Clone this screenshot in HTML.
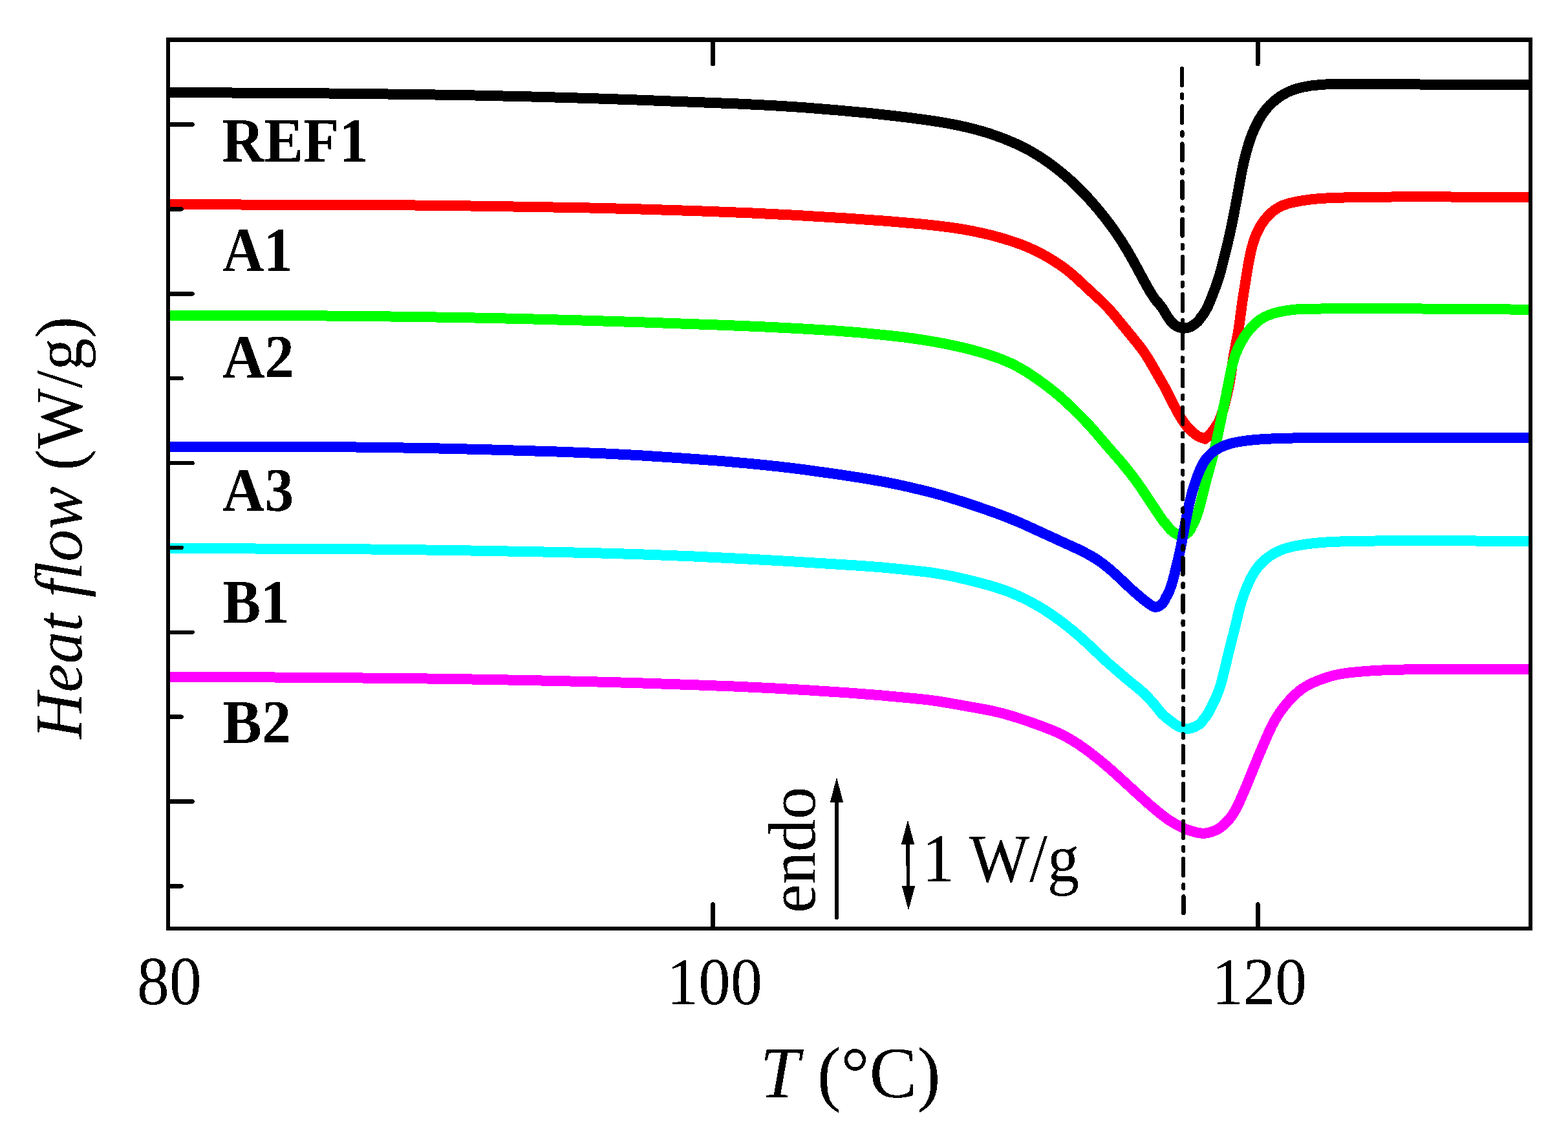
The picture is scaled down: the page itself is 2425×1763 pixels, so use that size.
<!DOCTYPE html>
<html lang="en"><head><meta charset="utf-8"><title>DSC heat flow curves</title>
<style>html,body{margin:0;padding:0;background:#fff}body{width:2425px;height:1763px;overflow:hidden}svg{display:block}text{font-family:"Liberation Serif","DejaVu Serif",serif;fill:#000}</style></head><body>
<svg width="2425" height="1763" viewBox="0 0 2425 1763" shape-rendering="crispEdges">
<rect x="0" y="0" width="2425" height="1763" fill="#fff"/>
<defs><filter id="hard" x="-0.05" y="-0.05" width="1.1" height="1.1" color-interpolation-filters="sRGB"><feComponentTransfer><feFuncA type="discrete" tableValues="0 1"/></feComponentTransfer></filter><clipPath id="plot"><rect x="260" y="61.5" width="2107" height="1374.5"/></clipPath></defs>
<g clip-path="url(#plot)" fill="none" stroke-width="16" stroke-linejoin="round" stroke-linecap="butt">
<path d="M255.0,143.0 L420.0,143.8 L499.0,144.4 L636.0,145.9 L734.0,147.5 L826.0,149.6 L917.0,152.2 L982.0,154.4 L1139.1,160.4 L1192.1,163.0 L1239.0,165.9 L1296.0,170.5 L1346.1,175.1 L1389.0,179.9 L1415.0,183.1 L1433.0,185.6 L1450.0,188.1 L1467.1,191.0 L1480.1,193.5 L1493.0,196.3 L1505.7,199.4 L1517.3,202.6 L1528.8,206.0 L1540.3,209.9 L1551.6,214.1 L1562.9,218.7 L1574.1,223.6 L1584.2,228.5 L1593.1,233.3 L1602.6,238.9 L1611.1,244.2 L1620.2,250.5 L1629.9,257.6 L1639.4,265.0 L1648.6,272.7 L1656.9,280.1 L1665.0,287.7 L1673.6,296.4 L1682.6,305.9 L1691.4,315.7 L1699.9,325.8 L1707.6,335.2 L1715.6,345.6 L1722.8,355.5 L1734.1,372.3 L1744.8,389.7 L1754.4,406.7 L1774.4,443.7 L1780.2,453.5 L1786.1,462.4 L1793.9,471.5 L1797.1,475.7 L1799.9,480.1 L1805.8,489.9 L1809.3,495.0 L1812.0,498.2 L1814.1,500.4 L1816.4,502.3 L1819.0,504.1 L1821.8,505.5 L1824.8,506.6 L1827.9,507.3 L1831.0,507.6 L1833.1,507.5 L1836.1,507.1 L1838.1,506.6 L1840.9,505.5 L1843.6,504.0 L1847.0,501.7 L1850.3,499.2 L1852.7,497.1 L1854.8,494.7 L1856.4,491.8 L1860.3,487.1 L1863.7,481.9 L1867.6,474.7 L1871.7,465.4 L1879.8,444.5 L1884.8,429.9 L1888.8,416.1 L1895.8,388.0 L1901.3,365.0 L1905.8,344.0 L1912.5,309.0 L1919.6,269.9 L1922.2,257.0 L1924.7,246.1 L1927.5,235.4 L1930.2,225.8 L1932.9,217.2 L1937.1,205.8 L1941.6,195.5 L1946.3,186.3 L1951.7,177.5 L1954.7,173.3 L1957.8,169.2 L1964.1,162.2 L1970.9,155.9 L1978.3,150.2 L1985.2,145.8 L1992.5,142.0 L2000.1,138.9 L2008.8,136.2 L2017.8,134.2 L2027.9,132.5 L2040.0,131.2 L2053.0,130.3 L2064.0,129.9 L2077.0,129.8 L2212.0,130.6 L2372.0,131.0" stroke="#000000"/>
<path d="M255.0,315.9 L391.0,316.6 L616.0,317.3 L681.0,317.8 L827.0,320.0 L917.0,321.6 L995.0,323.6 L1086.0,326.5 L1161.0,329.4 L1228.0,332.7 L1310.0,337.6 L1370.0,341.8 L1425.0,346.5 L1442.0,348.3 L1459.0,350.3 L1475.1,352.4 L1490.0,354.8 L1504.9,357.5 L1519.6,360.7 L1531.4,363.4 L1543.1,366.5 L1554.8,369.9 L1566.4,373.6 L1576.1,377.0 L1584.6,380.2 L1593.0,383.8 L1602.2,388.1 L1611.3,392.7 L1621.0,398.2 L1629.7,403.4 L1638.2,409.0 L1645.6,414.2 L1652.8,419.8 L1659.8,425.6 L1668.1,433.1 L1686.6,450.5 L1704.0,466.4 L1713.4,475.8 L1722.1,485.8 L1755.7,526.9 L1763.4,536.6 L1768.4,543.3 L1772.5,549.4 L1776.9,556.4 L1800.2,596.8 L1816.7,629.0 L1822.5,639.9 L1827.3,647.8 L1832.5,655.4 L1835.6,659.5 L1839.0,663.3 L1843.5,667.5 L1849.6,672.6 L1852.1,674.3 L1854.9,675.6 L1863.8,678.8 L1869.9,673.2 L1873.3,669.4 L1879.5,661.0 L1883.8,654.0 L1886.5,648.5 L1890.1,639.0 L1892.2,632.2 L1894.6,623.2 L1899.1,604.0 L1901.6,592.0 L1903.4,581.0 L1907.9,550.0 L1914.6,515.0 L1916.5,503.0 L1921.7,464.0 L1930.5,409.0 L1934.1,390.9 L1936.1,382.9 L1938.0,376.0 L1940.6,368.2 L1943.7,360.5 L1947.3,353.1 L1950.9,346.8 L1955.7,340.1 L1960.4,334.6 L1965.4,329.5 L1971.0,325.0 L1976.9,321.2 L1980.5,319.3 L1984.2,317.6 L1991.9,314.9 L2000.8,312.7 L2012.9,310.4 L2026.0,308.6 L2041.0,307.1 L2056.0,306.2 L2073.0,305.6 L2122.0,304.8 L2173.0,304.3 L2223.0,304.4 L2372.0,305.2" stroke="#ff0000"/>
<path d="M255.0,487.5 L418.0,487.9 L495.0,488.4 L613.0,489.6 L715.0,491.1 L810.0,493.1 L907.0,495.7 L991.0,498.3 L1126.0,503.1 L1188.0,505.7 L1242.0,508.5 L1294.0,511.6 L1332.0,514.6 L1378.0,519.2 L1395.0,521.1 L1411.0,523.2 L1428.9,525.9 L1444.7,528.5 L1459.5,531.2 L1475.3,534.5 L1489.2,537.6 L1502.0,540.8 L1514.7,544.3 L1526.3,547.7 L1536.8,551.2 L1546.3,554.6 L1554.7,558.0 L1563.1,561.7 L1571.3,565.8 L1579.4,570.2 L1587.3,574.9 L1595.1,579.9 L1605.2,586.9 L1615.9,594.7 L1625.6,602.1 L1634.2,609.0 L1644.1,617.6 L1655.1,627.8 L1668.9,641.3 L1680.3,653.0 L1691.3,665.1 L1707.9,684.5 L1734.7,715.3 L1747.4,731.0 L1758.3,745.5 L1769.4,761.4 L1794.4,799.3 L1800.0,806.9 L1805.4,813.1 L1808.7,817.4 L1810.9,819.7 L1813.3,821.8 L1815.8,823.7 L1818.5,825.3 L1821.3,826.7 L1823.2,827.4 L1825.1,827.9 L1827.2,828.0 L1829.2,827.8 L1831.3,827.3 L1834.1,826.0 L1837.4,823.5 L1840.1,820.4 L1842.2,816.7 L1843.3,813.6 L1845.9,809.4 L1848.1,804.9 L1850.8,798.3 L1853.3,790.6 L1856.8,777.9 L1863.9,749.0 L1874.0,712.1 L1880.0,688.3 L1882.9,675.2 L1888.9,646.0 L1896.0,613.0 L1904.0,572.0 L1907.2,559.3 L1910.6,548.7 L1914.4,539.3 L1918.5,531.0 L1923.1,523.0 L1928.3,515.3 L1933.4,508.7 L1939.0,502.6 L1944.4,497.8 L1950.2,493.5 L1956.4,489.9 L1963.0,487.0 L1969.9,484.6 L1977.8,482.5 L1986.9,480.7 L1995.9,479.4 L2005.9,478.4 L2016.9,477.8 L2080.0,477.1 L2115.0,477.0 L2249.0,477.8 L2372.0,478.8" stroke="#00ff00"/>
<path d="M255.0,690.5 L404.0,690.5 L466.0,690.7 L536.0,691.3 L618.0,692.4 L690.0,693.7 L757.0,695.4 L864.1,698.6 L935.1,701.4 L989.0,704.2 L1053.9,708.5 L1112.8,712.8 L1162.7,717.2 L1202.5,721.3 L1240.2,725.8 L1294.9,733.4 L1334.7,739.5 L1366.5,745.0 L1396.1,751.0 L1429.6,758.9 L1444.3,762.7 L1457.9,766.4 L1473.4,771.1 L1489.8,776.3 L1510.0,783.0 L1530.2,790.0 L1545.5,795.5 L1558.8,800.6 L1571.0,805.5 L1583.0,810.7 L1666.7,849.0 L1681.4,856.4 L1687.7,859.9 L1693.9,863.6 L1699.0,867.0 L1704.8,871.1 L1710.4,875.5 L1716.7,880.6 L1728.0,890.7 L1751.6,912.9 L1768.2,927.2 L1775.9,933.0 L1781.3,936.7 L1784.1,938.1 L1787.0,938.9 L1789.9,938.4 L1791.8,937.6 L1793.6,936.6 L1796.9,934.1 L1799.6,931.1 L1801.7,927.5 L1802.8,924.4 L1804.9,921.1 L1807.2,916.7 L1809.2,912.0 L1811.3,906.1 L1813.7,898.1 L1816.4,888.1 L1824.1,856.0 L1826.6,844.0 L1831.4,818.0 L1835.5,797.0 L1838.6,782.0 L1841.2,771.0 L1844.1,759.9 L1847.2,749.9 L1851.3,737.8 L1855.2,727.9 L1858.3,721.1 L1861.3,715.6 L1864.7,710.4 L1868.7,705.7 L1873.2,701.3 L1878.1,697.4 L1883.4,694.1 L1890.0,690.7 L1897.8,687.6 L1905.8,685.3 L1914.9,683.4 L1927.0,681.6 L1940.0,680.1 L1952.0,679.2 L1966.0,678.5 L1989.0,677.7 L2014.0,677.2 L2038.0,677.0 L2096.0,677.2 L2372.0,677.2" stroke="#0000ff"/>
<path d="M255.0,848.0 L477.0,848.8 L573.0,849.5 L659.0,850.5 L741.0,851.7 L857.0,853.8 L926.0,855.4 L985.0,857.1 L1069.0,860.3 L1151.0,864.2 L1218.0,867.9 L1323.1,874.4 L1360.1,877.1 L1391.0,880.0 L1431.1,884.3 L1443.1,885.9 L1455.0,887.9 L1466.0,889.9 L1480.0,892.8 L1508.4,899.5 L1529.9,905.3 L1540.5,908.5 L1550.2,911.7 L1558.8,914.8 L1566.3,917.8 L1573.8,920.9 L1582.1,924.8 L1590.2,928.8 L1598.3,933.2 L1607.1,938.2 L1614.8,942.9 L1628.3,951.8 L1642.1,961.8 L1658.0,974.3 L1671.9,986.1 L1681.6,995.0 L1702.8,1015.2 L1715.5,1026.8 L1737.7,1045.9 L1748.4,1054.9 L1761.0,1064.9 L1767.8,1071.0 L1774.3,1077.4 L1780.7,1084.2 L1787.5,1092.1 L1796.5,1103.3 L1798.6,1105.4 L1805.5,1111.3 L1809.5,1114.4 L1812.8,1116.7 L1816.8,1119.9 L1822.2,1123.1 L1826.0,1124.8 L1828.9,1125.8 L1832.9,1126.7 L1836.0,1127.0 L1838.1,1126.9 L1841.1,1126.3 L1844.2,1125.4 L1847.2,1124.3 L1852.9,1121.3 L1855.6,1119.5 L1857.2,1118.2 L1859.3,1115.9 L1861.5,1112.4 L1864.1,1109.3 L1866.5,1106.0 L1869.7,1100.8 L1873.5,1093.5 L1878.9,1082.3 L1882.6,1073.7 L1885.6,1066.0 L1888.1,1058.1 L1891.1,1047.1 L1899.3,1013.0 L1908.4,977.0 L1917.2,940.2 L1919.4,932.4 L1921.9,924.7 L1924.6,917.0 L1927.6,909.3 L1932.2,898.9 L1936.5,890.5 L1940.7,883.4 L1945.6,876.8 L1951.0,870.7 L1957.8,864.5 L1965.2,859.0 L1972.2,854.8 L1979.6,851.3 L1987.2,848.4 L1996.0,845.9 L2004.9,844.0 L2016.9,842.0 L2031.0,840.2 L2046.0,838.8 L2061.0,837.9 L2076.0,837.4 L2127.0,836.5 L2176.0,836.0 L2224.0,836.1 L2325.0,836.8 L2372.0,837.0" stroke="#00ffff"/>
<path d="M255.0,1046.6 L481.0,1047.8 L594.0,1048.8 L679.0,1049.7 L754.0,1050.9 L853.0,1052.8 L924.0,1054.5 L988.0,1056.3 L1078.0,1059.4 L1140.1,1061.7 L1195.0,1064.3 L1244.0,1067.0 L1313.0,1071.5 L1363.0,1075.4 L1422.0,1080.9 L1437.0,1082.6 L1451.0,1084.5 L1469.0,1087.5 L1524.1,1097.3 L1539.0,1100.4 L1552.8,1103.8 L1563.4,1106.9 L1575.9,1110.8 L1590.2,1115.6 L1607.4,1121.7 L1618.7,1126.0 L1628.2,1129.7 L1636.5,1133.3 L1643.7,1136.8 L1656.0,1143.5 L1667.9,1151.0 L1681.8,1160.8 L1697.7,1173.1 L1709.4,1182.8 L1722.4,1194.1 L1764.8,1232.7 L1779.9,1246.2 L1793.8,1257.8 L1805.1,1266.3 L1811.9,1270.8 L1819.0,1274.9 L1824.5,1277.8 L1834.7,1282.5 L1840.5,1284.6 L1850.7,1287.4 L1855.9,1288.4 L1861.0,1288.8 L1864.1,1288.6 L1867.2,1288.1 L1873.2,1286.6 L1880.1,1284.1 L1885.7,1281.1 L1889.1,1278.6 L1892.1,1275.6 L1897.5,1270.8 L1901.0,1266.9 L1904.8,1262.0 L1907.7,1257.7 L1910.8,1252.4 L1913.7,1246.9 L1917.2,1239.5 L1927.7,1215.2 L1944.2,1174.5 L1958.4,1141.1 L1966.4,1123.7 L1970.2,1116.5 L1973.7,1110.4 L1979.2,1101.8 L1985.3,1093.5 L1992.6,1084.8 L1999.7,1077.2 L2006.5,1070.9 L2012.8,1065.9 L2019.6,1061.5 L2026.8,1057.6 L2036.1,1053.4 L2045.7,1049.7 L2055.6,1046.5 L2065.7,1043.9 L2075.8,1041.9 L2086.9,1040.3 L2101.0,1038.9 L2117.0,1037.6 L2137.0,1036.5 L2159.0,1035.7 L2215.0,1034.8 L2264.0,1034.6 L2372.0,1034.8" stroke="#ff00ff"/>
</g>
<line x1="1828.2" y1="106" x2="1830.4" y2="1412.2" stroke="#000" stroke-width="6.3" stroke-linecap="round" stroke-dasharray="25.8 14.2 5.6 12.6"/>
<g stroke="#000" stroke-width="6.5" stroke-linecap="round">
<line x1="263" y1="192.5" x2="297.5" y2="192.5"/>
<line x1="263" y1="323.4" x2="280.5" y2="323.4"/>
<line x1="263" y1="454.3" x2="297.5" y2="454.3"/>
<line x1="263" y1="585.1" x2="280.5" y2="585.1"/>
<line x1="263" y1="716.0" x2="297.5" y2="716.0"/>
<line x1="263" y1="846.9" x2="280.5" y2="846.9"/>
<line x1="263" y1="977.8" x2="297.5" y2="977.8"/>
<line x1="263" y1="1108.7" x2="280.5" y2="1108.7"/>
<line x1="263" y1="1239.5" x2="297.5" y2="1239.5"/>
<line x1="263" y1="1370.4" x2="280.5" y2="1370.4"/>
<line x1="1102.5" y1="64.5" x2="1102.5" y2="99.0"/>
<line x1="1102.5" y1="1433" x2="1102.5" y2="1398.5"/>
<line x1="1945.3" y1="64.5" x2="1945.3" y2="99.0"/>
<line x1="1945.3" y1="1433" x2="1945.3" y2="1398.5"/>
</g>
<rect x="260" y="61.5" width="2107" height="1374.5" fill="none" stroke="#000" stroke-width="6.5"/>
<g filter="url(#hard)">
<text transform="translate(211.7,1552.87) scale(1.0011,1.0642)" font-size="100" font-weight="normal" font-style="normal" text-anchor="start" xml:space="preserve">80</text>
<text transform="translate(1030.91,1552.81) scale(0.9883,1.0456)" font-size="100" font-weight="normal" font-style="normal" text-anchor="start" xml:space="preserve">100</text>
<text transform="translate(1873.97,1552.81) scale(0.981,1.0456)" font-size="100" font-weight="normal" font-style="normal" text-anchor="start" xml:space="preserve">120</text>
<text transform="translate(343.19,249.5) scale(0.9058,0.9818)" font-size="100" font-weight="bold" font-style="normal" text-anchor="start" xml:space="preserve">REF1</text>
<text transform="translate(344.11,418.8) scale(0.8888,0.9667)" font-size="100" font-weight="bold" font-style="normal" text-anchor="start" xml:space="preserve">A1</text>
<text transform="translate(344.1,583.85) scale(0.9043,0.9522)" font-size="100" font-weight="bold" font-style="normal" text-anchor="start" xml:space="preserve">A2</text>
<text transform="translate(344.1,789.69) scale(0.9008,0.9559)" font-size="100" font-weight="bold" font-style="normal" text-anchor="start" xml:space="preserve">A3</text>
<text transform="translate(344.23,963.3) scale(0.8827,0.9545)" font-size="100" font-weight="bold" font-style="normal" text-anchor="start" xml:space="preserve">B1</text>
<text transform="translate(344.19,1148.54) scale(0.9073,0.9621)" font-size="100" font-weight="bold" font-style="normal" text-anchor="start" xml:space="preserve">B2</text>
<text transform="translate(1426.29,1363.29) scale(0.9902,1.0529)" font-size="100" font-weight="normal" font-style="normal" text-anchor="start" xml:space="preserve">1 W/g</text>
<text transform="translate(1259.96,1411.92) rotate(-90) scale(1.0048,1.0386)" font-size="100" font-weight="normal" font-style="normal" text-anchor="start" xml:space="preserve">endo</text>
<text transform="translate(1175.3,1696.94) scale(1.1,1.1267)" font-size="100" font-weight="normal" font-style="normal" text-anchor="start" xml:space="preserve"><tspan font-style="italic">T</tspan> (°C)</text>
<text transform="translate(126.5,1142.6) rotate(-90) scale(0.9963,1.045)" font-size="100" font-weight="normal" font-style="normal" text-anchor="start" xml:space="preserve"><tspan font-style="italic">Heat flow</tspan> (W/g)</text>
</g>
<g fill="#000" stroke="none">
<path d="M1294,1202.2 L1304.2,1241 L1296.8,1241 L1296.8,1419.3 A2.8,2.8 0 0 1 1291.2,1419.3 L1291.2,1241 L1283.8,1241 Z"/>
<path d="M1404,1268.2 L1414.2,1306 L1406.8,1306 L1407.4,1370 L1415.2,1370 L1405,1407.8 L1394.8,1370 L1401.8,1370 L1401.2,1306 L1393.8,1306 Z"/>
</g>
</svg></body></html>
